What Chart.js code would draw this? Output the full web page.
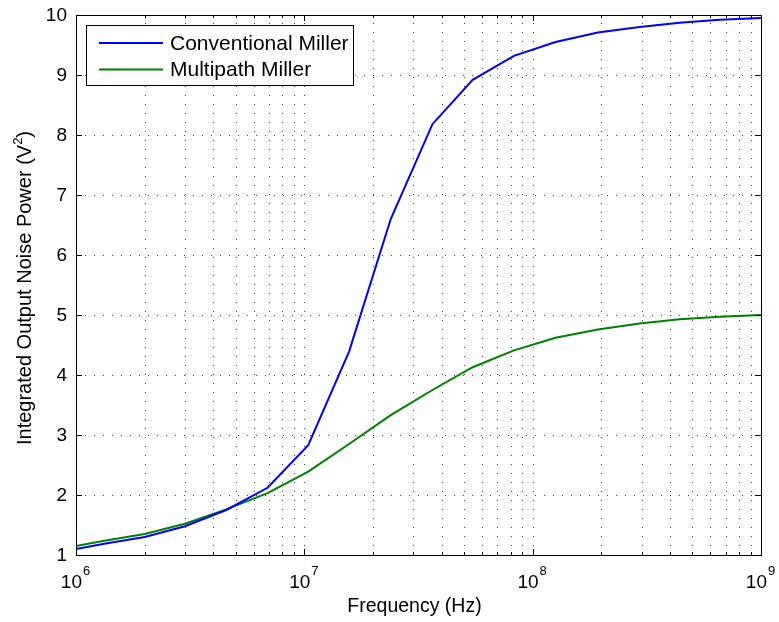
<!DOCTYPE html>
<html>
<head>
<meta charset="utf-8">
<script src="https://cdn.jsdelivr.net/npm/chart.js@4/dist/chart.umd.min.js"></script>
<style>
  html, body { margin: 0; padding: 0; background: #fff; }
  #wrap { width: 779px; height: 622px; }
</style>
</head>
<body>
<div id="wrap"><canvas id="grafico" width="779" height="622"></canvas></div>
<script>
// dados
const frequencias = [1e6, 1.35e6, 2.0e6, 3.0e6, 4.55e6, 6.9e6, 1.04e7, 1.57e7, 2.39e7, 3.64e7,
  5.46e7, 8.28e7, 1.26e8, 1.93e8, 2.94e8, 4.4e8, 6.6e8, 1e9];
const millerConvencional = [1.10, 1.19, 1.30, 1.48, 1.75, 2.12, 2.83, 4.39, 6.60, 8.18,
  8.92, 9.32, 9.55, 9.71, 9.80, 9.87, 9.92, 9.95];
const millerMultipath = [1.15, 1.24, 1.35, 1.52, 1.76, 2.03, 2.39, 2.85, 3.33, 3.75,
  4.13, 4.41, 4.62, 4.76, 4.86, 4.93, 4.97, 5.00];
const nomesSeries = ['Conventional Miller', 'Multipath Miller'];
const coresSeries = ['#0000ff', '#008000'];
const ticksY = [1, 2, 3, 4, 5, 6, 7, 8, 9, 10];
const expoentesX = [6, 7, 8, 9];
const tituloX = 'Frequency (Hz)';
const tituloY = 'Integrated Output Noise Power (V';

const FONTE = '"Liberation Sans", Arial, sans-serif';

function pontos(valores) {
  return frequencias.map((f, i) => ({ x: f, y: valores[i] }));
}

// valores das linhas de grade do eixo log (1..9 x 10^n)
function valoresLog() {
  const v = [];
  for (let e = 6; e < 9; e++) {
    for (let m = 1; m < 10; m++) v.push({ valor: m * Math.pow(10, e), maior: m === 1 });
  }
  v.push({ valor: 1e9, maior: true });
  return v;
}

const eixosMatlab = {
  id: 'eixosMatlab',
  beforeDatasetsDraw(chart) {
    const { ctx, chartArea: a, scales: { x, y } } = chart;
    ctx.save();
    ctx.strokeStyle = 'rgba(0,0,0,0.75)';
    ctx.lineWidth = 1;
    ctx.setLineDash([1, 8]);
    valoresLog().forEach(t => {
      const px = Math.round(x.getPixelForValue(t.valor)) + 0.5;
      if (px <= a.left + 1 || px >= a.right - 1) return;
      ctx.beginPath();
      ctx.moveTo(px, a.bottom);
      ctx.lineTo(px, a.top);
      ctx.stroke();
    });
    ticksY.forEach(v => {
      const py = Math.round(y.getPixelForValue(v)) + 0.5;
      if (py <= a.top + 1 || py >= a.bottom - 1) return;
      ctx.beginPath();
      ctx.moveTo(a.left, py);
      ctx.lineTo(a.right, py);
      ctx.stroke();
    });
    ctx.restore();
  },
  afterDatasetsDraw(chart) {
    const { ctx, chartArea: a, scales: { x, y } } = chart;
    ctx.save();
    ctx.strokeStyle = '#000';
    ctx.lineWidth = 1;
    ctx.setLineDash([]);

    // caixa
    ctx.strokeRect(Math.round(a.left) + 0.5, Math.round(a.top) + 0.5,
      Math.round(a.right - a.left), Math.round(a.bottom - a.top));

    // marcas para dentro
    valoresLog().forEach(t => {
      const px = Math.round(x.getPixelForValue(t.valor)) + 0.5;
      const len = t.maior ? 6 : 3;
      ctx.beginPath();
      ctx.moveTo(px, a.bottom); ctx.lineTo(px, a.bottom - len);
      ctx.moveTo(px, a.top); ctx.lineTo(px, a.top + len);
      ctx.stroke();
    });
    ticksY.forEach(v => {
      const py = Math.round(y.getPixelForValue(v)) + 0.5;
      ctx.beginPath();
      ctx.moveTo(a.left, py); ctx.lineTo(a.left + 6, py);
      ctx.moveTo(a.right, py); ctx.lineTo(a.right - 6, py);
      ctx.stroke();
    });

    // rótulos do eixo y
    ctx.fillStyle = '#000';
    ctx.font = '19px ' + FONTE;
    ctx.textAlign = 'right';
    ctx.textBaseline = 'middle';
    ticksY.forEach(v => {
      ctx.fillText(String(v), a.left - 9, y.getPixelForValue(v) + 1);
    });

    // rótulos do eixo x (10^n)
    ctx.textAlign = 'left';
    ctx.textBaseline = 'alphabetic';
    expoentesX.forEach(e => {
      const px = x.getPixelForValue(Math.pow(10, e));
      ctx.font = '19px ' + FONTE;
      const wBase = ctx.measureText('10').width;
      ctx.font = '13px ' + FONTE;
      const wExp = ctx.measureText(String(e)).width;
      const x0 = px - (wBase + wExp) / 2 - 1;
      ctx.font = '19px ' + FONTE;
      ctx.fillText('10', x0, 588);
      ctx.font = '13px ' + FONTE;
      ctx.fillText(String(e), x0 + wBase + 1, 575);
    });

    // títulos dos eixos
    ctx.font = '19.5px ' + FONTE;
    ctx.textAlign = 'center';
    ctx.fillText(tituloX, (a.left + a.right) / 2 - 4, 612);

    ctx.save();
    ctx.translate(31, 288);
    ctx.rotate(-Math.PI / 2);
    ctx.font = '20px ' + FONTE;
    const w1 = ctx.measureText(tituloY).width;
    ctx.font = '13px ' + FONTE;
    const w2 = ctx.measureText('2').width;
    ctx.font = '20px ' + FONTE;
    const w3 = ctx.measureText(')').width;
    const inicio = -(w1 + w2 + w3) / 2;
    ctx.textAlign = 'left';
    ctx.fillText(tituloY, inicio, 0);
    ctx.font = '13px ' + FONTE;
    ctx.fillText('2', inicio + w1, -9);
    ctx.font = '20px ' + FONTE;
    ctx.fillText(')', inicio + w1 + w2, 0);
    ctx.restore();

    // legenda
    const lx = 86.5, ly = 25.5, lw = 267, lh = 60;
    ctx.fillStyle = '#fff';
    ctx.fillRect(lx, ly, lw, lh);
    ctx.strokeStyle = '#000';
    ctx.strokeRect(lx, ly, lw, lh);
    ctx.font = '21px ' + FONTE;
    ctx.textAlign = 'left';
    ctx.textBaseline = 'middle';
    chart.data.datasets.forEach((ds, i) => {
      const cy = 43 + i * 26.5;
      ctx.strokeStyle = ds.borderColor;
      ctx.lineWidth = 2;
      ctx.beginPath();
      ctx.moveTo(99, cy);
      ctx.lineTo(163, cy);
      ctx.stroke();
      ctx.fillStyle = '#000';
      ctx.fillText(ds.label, 170, cy + 1);
    });
    ctx.restore();
  }
};

const ctx = document.getElementById('grafico').getContext('2d');
new Chart(ctx, {
  type: 'line',
  data: {
    datasets: [
      {
        label: nomesSeries[0],
        data: pontos(millerConvencional),
        borderColor: coresSeries[0],
        borderWidth: 2,
        pointRadius: 0,
        tension: 0,
        fill: false
      },
      {
        label: nomesSeries[1],
        data: pontos(millerMultipath),
        borderColor: coresSeries[1],
        borderWidth: 2,
        pointRadius: 0,
        tension: 0,
        fill: false
      }
    ]
  },
  options: {
    responsive: false,
    animation: false,
    layout: { padding: { top: 15, right: 18, left: 0, bottom: 0 } },
    plugins: {
      legend: { display: false },
      tooltip: { enabled: false }
    },
    scales: {
      x: {
        type: 'logarithmic',
        min: 1e6,
        max: 1e9,
        grid: { display: false },
        border: { display: false },
        ticks: { display: false },
        afterFit(scale) { scale.height = 67; }
      },
      y: {
        min: 1,
        max: 10,
        grid: { display: false },
        border: { display: false },
        ticks: { display: false },
        afterFit(scale) { scale.width = 76; }
      }
    }
  },
  plugins: [eixosMatlab]
});
</script>
</body>
</html>
